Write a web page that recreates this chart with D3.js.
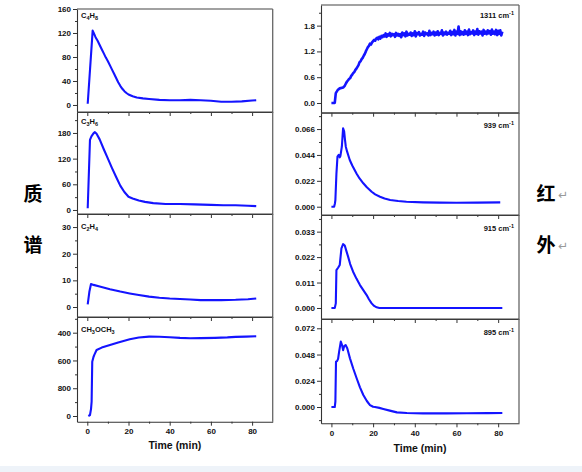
<!DOCTYPE html>
<html><head><meta charset="utf-8">
<script src="https://cdn.jsdelivr.net/npm/d3@7"></script>
<style>
html,body{margin:0;padding:0;background:#fff;}
svg{display:block;}
</style>
</head><body>
<svg id="chart" width="582" height="472"></svg>
<script>
// ---------- DATA ----------
const timeTicks = [0, 20, 40, 60, 80];
const timeMinorTicks = [10, 30, 50, 70];

const c4h8 = [[0.2,2],[2.6,124],[3,121],[4,113],[5,107],[6,100],[7,93],[8,86],[9,79],[10,73],[11,66],[12,59],[13,52],[14,45],[15,38],[16,32],[17,27],[18,23],[19,20],[20,17.5],[22,14.5],[24,12.5],[27,11],[30,10],[35,8.5],[40,8],[45,8],[50,8.5],[55,8],[60,7],[65,5.5],[70,5.5],[75,6],[80,7.5],[82,8]];
const c3h6 = [[0.2,4],[1.3,164],[2,172],[3,179],[3.7,182],[4.5,178],[6,165],[8,142],[10,120],[12,98],[14,77],[16,57],[18,42],[20,31],[22,27],[25,22],[28,19],[32,16],[38,14],[45,14],[52,13],[60,12],[66,11],[72,11],[78,10],[82,9]];
const c2h4 = [[0.2,1],[1,5.7],[1.8,8.6],[3,8.3],[6,7.7],[11,6.7],[16,5.8],[20.6,5.1],[25,4.5],[30,3.9],[35,3.5],[40,3.2],[45,3.0],[50,2.8],[55,2.6],[60,2.6],[65,2.6],[72,2.7],[78,2.9],[82,3.2]];
const ch3och3 = [[0.5,0],[1.3,14],[1.8,100],[2.1,206],[2.4,780],[3,850],[3.4,880],[4.5,950],[7,985],[11,1023],[15,1060],[20.6,1105],[25,1130],[30,1143],[35,1142],[40,1135],[45,1125],[50,1120],[55,1122],[62,1126],[68,1132],[72,1140],[77,1144],[82,1148]];

const c4h8Ticks = [0,40,80,120,160];
const c4h8TickLabels = ["0","40","80","120","160"];
const c3h6Ticks = [0,60,120,180];
const c3h6TickLabels = ["0","60","120","180"];
const c2h4Ticks = [0,10,20,30];
const c2h4TickLabels = ["0","10","20","30"];
const ch3Ticks = [0,400,800,1200];
const ch3TickLabels = ["0","800","600","400"];

const ir1311 = [[0,0],[1.6,0],[2.1,0.23],[3,0.30],[4,0.34],[5.6,0.36],[6.4,0.40],[7,0.46],[7.5,0.50],[8,0.53],[8.5,0.56],[9,0.58],[9.5,0.63],[10,0.66],[10.5,0.70],[11,0.72],[11.5,0.77],[12,0.80],[12.5,0.84],[13,0.88],[13.5,0.95],[14,0.97],[14.5,1.02],[15,1.05],[15.5,1.10],[16,1.14],[16.5,1.20],[17,1.25],[17.5,1.30],[18,1.33],[18.5,1.38],[19,1.36],[19.5,1.41],[20,1.44],[20.5,1.47],[21,1.45],[21.5,1.50],
[22,1.52],[22.5,1.48],[23,1.54],[23.5,1.50],[24,1.56],[24.5,1.53],[25,1.58],[25.5,1.55],[26,1.62],[26.5,1.54],[27,1.60],[27.5,1.57],[28,1.63],[28.5,1.55],[29,1.61],[29.5,1.58],[30,1.60],[30.5,1.54],[31,1.63],[31.5,1.57],[32,1.61],[32.5,1.56],[33,1.60],[33.5,1.53],[34,1.64],[34.5,1.58],[35,1.62],[35.5,1.55],[36,1.66],[36.5,1.57],[37,1.61],[37.5,1.59],[38,1.64],[38.5,1.56],[39,1.62],[39.5,1.58],[40,1.67],[40.5,1.55],[41,1.63],[41.5,1.60],[42,1.65],[42.5,1.57],[43,1.61],[43.5,1.59],[44,1.66],[44.5,1.56],[45,1.64],[45.5,1.60],[46,1.62],[46.5,1.57],[47,1.68],[47.5,1.58],[48,1.63],[48.5,1.60],[49,1.66],[49.5,1.57],[50,1.64],[50.5,1.59],[51,1.67],[51.5,1.58],[52,1.63],[52.5,1.61],[53,1.69],[53.5,1.57],[54,1.64],[54.5,1.60],[55,1.66],[55.5,1.59],[56,1.63],[56.5,1.61],[57,1.68],[57.5,1.58],[58,1.65],[58.5,1.60],[59,1.70],[59.5,1.57],[60,1.66],[60.5,1.61],[61,1.78],[61.5,1.58],[62,1.67],[62.5,1.60],[63,1.65],[63.5,1.59],[64,1.69],[64.5,1.61],[65,1.66],[65.5,1.58],[66,1.71],[66.5,1.60],[67,1.65],[67.5,1.62],[68,1.69],[68.5,1.58],[69,1.66],[69.5,1.61],[70,1.72],[70.5,1.59],[71,1.67],[71.5,1.62],[72,1.66],[72.5,1.57],[73,1.70],[73.5,1.61],[74,1.66],[74.5,1.60],[75,1.69],[75.5,1.62],[76,1.67],[76.5,1.59],[77,1.71],[77.5,1.61],[78,1.66],[78.5,1.60],[79,1.70],[79.5,1.58],[80,1.68],[80.5,1.61],[81,1.69],[81.5,1.57],[82,1.66]];
const ir939 = [[0,0],[1.3,0],[1.7,0.003],[1.9,0.0057],[2.4,0.028],[2.9,0.0425],[3.5,0.044],[4.0,0.042],[4.3,0.043],[5,0.051],[5.6,0.0666],[6.1,0.064],[6.5,0.057],[6.9,0.051],[7.5,0.047],[8.8,0.0397],[10,0.035],[12.1,0.028],[13.5,0.024],[15.3,0.0199],[17,0.0165],[19.3,0.0127],[21,0.0105],[23.3,0.0085],[25.5,0.007],[28.2,0.0057],[32,0.0048],[36,0.0042],[44,0.0037],[52,0.0035],[60,0.0034],[70,0.0035],[81,0.0037]];
const ir915 = [[0,0],[1.6,0],[2.1,0.002],[2.4,0.0164],[3.2,0.0174],[4,0.0186],[4.8,0.0258],[5.6,0.0276],[6.4,0.027],[7.2,0.0246],[8,0.0222],[9,0.019],[10.4,0.0157],[12,0.0127],[13.7,0.0099],[15.3,0.0077],[16.9,0.0056],[18,0.0038],[19.3,0.002],[20.5,0.0009],[21.7,0.0003],[23,0],[30,0],[40,0],[60,0],[82,0]];
const ir895 = [[0,0],[1.6,0],[1.9,0.005],[2.2,0.0415],[2.7,0.042],[3.2,0.044],[3.7,0.0506],[4.5,0.0598],[5.1,0.0567],[5.6,0.052],[6.1,0.0555],[6.8,0.0567],[7.6,0.0537],[8.9,0.0445],[10.5,0.035],[12.1,0.0263],[13.7,0.018],[15.3,0.011],[17,0.0055],[18.5,0.0018],[20,0.0002],[20.9,0],[23,-0.0008],[24.9,-0.0018],[28,-0.0033],[31.4,-0.0049],[36.2,-0.0055],[44,-0.0058],[55,-0.0058],[65,-0.0057],[75,-0.0056],[82,-0.0055]];

const ir1311Ticks = [0,0.6,1.2,1.8];
const ir1311TickLabels = ["0.0","0.6","1.2","1.8"];
const ir939Ticks = [0,0.022,0.044,0.066];
const ir939TickLabels = ["0.000","0.022","0.044","0.066"];
const ir915Ticks = [0,0.011,0.022,0.033];
const ir915TickLabels = ["0.000","0.011","0.022","0.033"];
const ir895Ticks = [0,0.024,0.048,0.072];
const ir895TickLabels = ["0.000","0.024","0.048","0.072"];

const xTitle = "Time (min)";
const leftSideLabels = ["质", "谱"];
const rightSideLabels = ["红", "外"];

// ---------- LAYOUT ----------
const svg = d3.select("#chart");
const BLUE = "#1414ff";
const FONT = "'Liberation Sans', Arial, sans-serif";

svg.append("rect").attr("x",0).attr("y",466).attr("width",582).attr("height",6).attr("fill","#eef3f9");

const panels = [
  {data:c4h8, ticks:c4h8Ticks, labels:c4h8TickLabels, x0:77, x1:272.7, y0:9, y1:112, dom:[-11.7,160], name:[["C",""],["4","sub"],["H",""],["8","sub"]], nameAlign:"start", nx:81, ny:18, last:false},
  {data:c3h6, ticks:c3h6Ticks, labels:c3h6TickLabels, x0:77, x1:272.7, y0:112, y1:214, dom:[-9.4,229], name:[["C",""],["3","sub"],["H",""],["6","sub"]], nameAlign:"start", nx:81, ny:124, last:false},
  {data:c2h4, ticks:c2h4Ticks, labels:c2h4TickLabels, x0:77, x1:272.7, y0:214, y1:317, dom:[-3.75,34.9], name:[["C",""],["2","sub"],["H",""],["4","sub"]], nameAlign:"start", nx:81, ny:229, last:false},
  {data:ch3och3, ticks:ch3Ticks, labels:ch3TickLabels, x0:77, x1:272.7, y0:317, y1:421.7, dom:[-82,1426], name:[["CH",""],["3","sub"],["OCH",""],["3","sub"]], nameAlign:"start", nx:81, ny:332, last:true, titleY:449},
  {data:ir1311, ticks:ir1311Ticks, labels:ir1311TickLabels, x0:321, x1:519, y0:5, y1:112.7, dom:[-0.226,2.28], name:[["1311 cm",""],["-1","sup"]], nameAlign:"end", nx:514, ny:18, last:false, noisy:true},
  {data:ir939, ticks:ir939Ticks, labels:ir939TickLabels, x0:321, x1:519, y0:112.7, y1:215, dom:[-0.00705,0.0799], name:[["939 cm",""],["-1","sup"]], nameAlign:"end", nx:514, ny:128, last:false},
  {data:ir915, ticks:ir915Ticks, labels:ir915TickLabels, x0:321, x1:519, y0:215, y1:319, dom:[-0.00476,0.0402], name:[["915 cm",""],["-1","sup"]], nameAlign:"end", nx:514, ny:231, last:false},
  {data:ir895, ticks:ir895Ticks, labels:ir895TickLabels, x0:321, x1:519, y0:319, y1:423.3, dom:[-0.0149,0.0805], name:[["895 cm",""],["-1","sup"]], nameAlign:"end", nx:514, ny:335, last:true, titleY:452}
];

panels.forEach(p => {
  const x = d3.scaleLinear().domain([-5, 90]).range([p.x0, p.x1]);
  const y = d3.scaleLinear().domain(p.dom).range([p.y1, p.y0]);
  const g = svg.append("g");

  // frame top/right
  g.append("line").attr("x1",p.x0).attr("x2",p.x1).attr("y1",p.y0).attr("y2",p.y0).attr("stroke","#444").attr("stroke-width",1.1);
  g.append("line").attr("x1",p.x1).attr("x2",p.x1).attr("y1",p.y0).attr("y2",p.y1).attr("stroke","#666").attr("stroke-width",1.3);

  // line
  const line = d3.line().x(d => x(d[0])).y(d => y(d[1]));
  g.append("path").datum(p.data).attr("d", line).attr("fill","none").attr("stroke",BLUE)
    .attr("stroke-width", p.noisy ? 2.6 : 2.1).attr("stroke-linejoin","round");

  // y minor ticks
  const step = p.ticks[1]-p.ticks[0];
  const minors = [];
  p.ticks.forEach(t => { [t-step/2, t+step/2].forEach(m => { if (m>p.dom[0] && m<p.dom[1] && !minors.some(v=>Math.abs(v-m)<1e-9)) minors.push(m); }); });
  const yMinor = g.append("g").attr("transform",`translate(${p.x0},0)`)
    .call(d3.axisLeft(y).tickValues(minors).tickSize(2).tickFormat(""));
  yMinor.select(".domain").remove();
  yMinor.selectAll("line").attr("stroke","#333");

  const yAx = g.append("g").attr("transform",`translate(${p.x0},0)`)
    .call(d3.axisLeft(y).tickValues(p.ticks).tickSize(4).tickSizeOuter(0).tickPadding(2)
      .tickFormat((d,i) => p.labels[i]));
  yAx.select(".domain").attr("stroke","#333").attr("stroke-width",1.1);
  yAx.selectAll("line").attr("stroke","#333");
  yAx.selectAll("text").attr("font-family",FONT).attr("font-size","8px").attr("font-weight","bold").attr("fill","#111");

  // x axis
  const xMinor = g.append("g").attr("transform",`translate(0,${p.y1})`)
    .call(d3.axisBottom(x).tickValues(timeMinorTicks).tickSize(2).tickFormat(""));
  xMinor.select(".domain").remove();
  xMinor.selectAll("line").attr("stroke","#333");
  const xAx = g.append("g").attr("transform",`translate(0,${p.y1})`)
    .call(d3.axisBottom(x).tickValues(timeTicks).tickSize(4).tickSizeOuter(0).tickPadding(3)
      .tickFormat(p.last ? d3.format("d") : ""));
  xAx.select(".domain").attr("stroke","#333").attr("stroke-width",1.1);
  xAx.selectAll("line").attr("stroke","#333");
  xAx.selectAll("text").attr("font-family",FONT).attr("font-size","8px").attr("font-weight","bold").attr("fill","#111");

  if (p.last) {
    g.append("text").attr("x",(p.x0+p.x1)/2).attr("y",p.titleY).attr("text-anchor","middle")
      .attr("font-family",FONT).attr("font-size","10.5px").attr("font-weight","bold").attr("fill","#111").text(xTitle);
  }

  // name label
  const t = g.append("text").attr("x",p.nx).attr("y",p.ny).attr("text-anchor",p.nameAlign)
    .attr("font-family",FONT).attr("font-size","7.5px").attr("font-weight","bold").attr("fill","#111");
  p.name.forEach(([s,k]) => {
    const ts = t.append("tspan").text(s);
    if (k==="sub") ts.attr("font-size","5.5px").attr("dy","1.5");
    else if (k==="sup") ts.attr("font-size","5.5px").attr("dy","-3");
    else ts.attr("dy", t.selectAll("tspan").size()>1 ? "-1.5" : "0");
  });
});

// side labels
const sideFont = "'Noto Sans CJK SC', sans-serif";
[[leftSideLabels, 33, false],[rightSideLabels, 546, true]].forEach(([labs, cx, mark]) => {
  labs.forEach((s,i) => {
    svg.append("text").attr("x",cx).attr("y",[201,252][i]).attr("text-anchor","middle")
      .attr("font-family",sideFont).attr("font-size","19px").attr("font-weight","bold").attr("fill","#000").text(s);
    if (mark) svg.append("text").attr("x",558).attr("y",[199,250][i]).attr("font-family","'DejaVu Sans', sans-serif")
      .attr("font-size","12px").attr("fill","#999").text("↵");
  });
});
</script>
</body></html>
